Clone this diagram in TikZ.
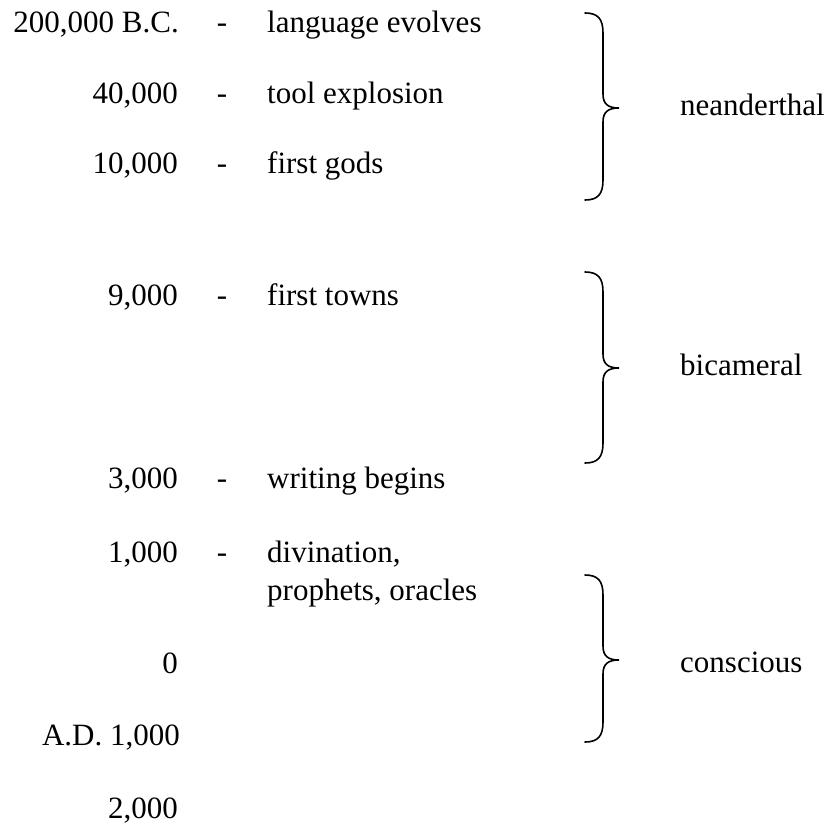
\documentclass[tikz,border=0pt]{standalone}
\usepackage{fontspec}
\setmainfont{Liberation Serif}
\newcommand\jbrace[3]{%
  \draw[bracestyle] (585,#1) .. controls (598,#1) and (603,{#1+6}) .. (603,{#1+20})
    -- (603,{#2-14}) .. controls (603,{#2-4}) and (608,#2) .. (619,#2)
    .. controls (608,#2) and (603,{#2+4}) .. (603,{#2+14})
    -- (603,{#3-20}) .. controls (603,{#3-6}) and (598,#3) .. (585,#3);}
\begin{document}
\begin{tikzpicture}[x=1pt,y=-1pt,
  every node/.style={inner sep=0pt,font=\fontsize{31}{37}\selectfont},
  num/.style={anchor=base east},
  sep/.style={anchor=base},
  ev/.style={anchor=base west},
  era/.style={anchor=base west},
  bracestyle/.style={line width=1.6pt,line cap=round}]
\useasboundingbox (0,0) rectangle (829,827);
\node[num] (n1) at (179,32) {200,000 B.C.};
\node[sep] (d1) at (222,32) {-};
\node[ev]  (e1) at (267,32) {language evolves};
\node[num] (n2) at (178,103) {40,000};
\node[sep] (d2) at (222,103) {-};
\node[ev]  (e2) at (267,103) {tool explosion};
\node[num] (n3) at (178,173) {10,000};
\node[sep] (d3) at (222,173) {-};
\node[ev]  (e3) at (267,173) {first gods};
\node[num] (n4) at (178,305) {9,000};
\node[sep] (d4) at (222,305) {-};
\node[ev]  (e4) at (267,305) {first towns};
\node[num] (n5) at (178,488) {3,000};
\node[sep] (d5) at (222,488) {-};
\node[ev]  (e5) at (267,488) {writing begins};
\node[num] (n6) at (178,562) {1,000};
\node[sep] (d6) at (222,562) {-};
\node[ev]  (e6) at (267,562) {divination,};
\node[ev]  (e6b) at (267,600) {prophets, oracles};
\node[num] (n7) at (178,673) {0};
\node[num] (n8) at (180,745) {A.D. 1,000};
\node[num] (n9) at (178,818) {2,000};
\jbrace{13}{108}{200}
\jbrace{272}{368}{463}
\jbrace{575}{660}{742}
\node[era] (l1) at (680,115) {neanderthal};
\node[era] (l2) at (680,375) {bicameral};
\node[era] (l3) at (680,672) {conscious};
\end{tikzpicture}
\end{document}
